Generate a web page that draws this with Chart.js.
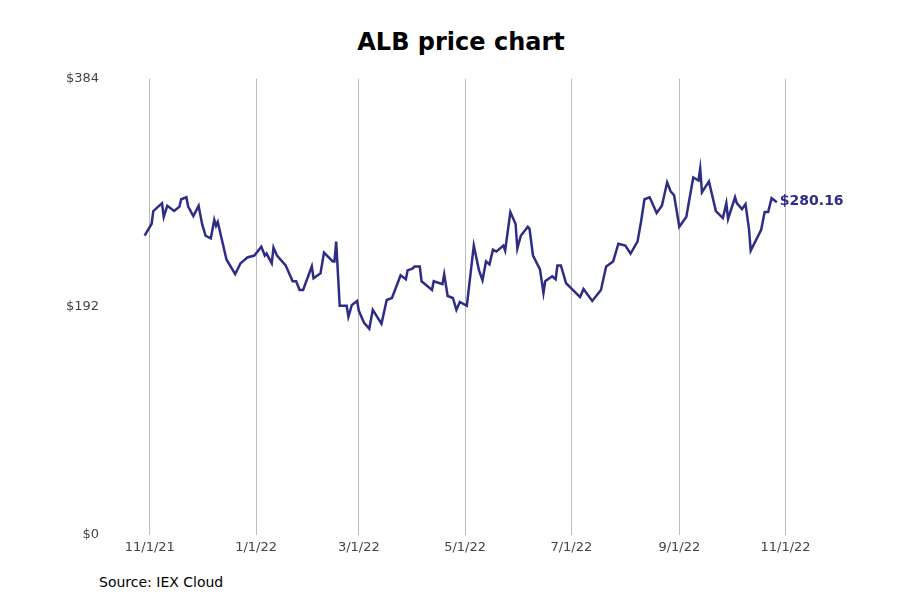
<!DOCTYPE html>
<html>
<head>
<meta charset="utf-8">
<script src="https://cdn.jsdelivr.net/npm/chart.js@4/dist/chart.umd.min.js"></script>
<style>
  body { margin: 0; background: #fff; font-family: "DejaVu Sans", sans-serif; }
  #wrap { position: relative; width: 900px; height: 600px; }
  #title { position: absolute; top: 28px; left: 0; width: 922px; text-align: center; font-size: 24px; font-weight: bold; color: #000; }
  #box { position: absolute; left: 0; top: 63px; width: 900px; height: 497px; }
  #source { position: absolute; left: 99px; top: 574px; font-size: 14px; color: #000; }
</style>
</head>
<body>
<div id="wrap">
  <div id="title">ALB price chart</div>
  <div id="box"><canvas id="priceChart"></canvas></div>
  <div id="source">Source: IEX Cloud</div>
</div>
<script>
// ALB closing prices
const dates = ['2021-10-29','2021-11-02','2021-11-03','2021-11-08','2021-11-09','2021-11-11','2021-11-15','2021-11-18','2021-11-19','2021-11-22',
  '2021-11-23','2021-11-26','2021-11-29','2021-12-01','2021-12-03','2021-12-06','2021-12-08','2021-12-09','2021-12-10','2021-12-15',
  '2021-12-20','2021-12-23','2021-12-27','2021-12-31','2022-01-04','2022-01-06','2022-01-07','2022-01-10','2022-01-11','2022-01-13',
  '2022-01-18','2022-01-22','2022-01-24','2022-01-26','2022-01-28','2022-02-02','2022-02-03','2022-02-07','2022-02-09','2022-02-14',
  '2022-02-15','2022-02-16','2022-02-18','2022-02-22','2022-02-23','2022-02-25','2022-02-28','2022-03-01','2022-03-04','2022-03-07',
  '2022-03-09','2022-03-14','2022-03-17','2022-03-20','2022-03-25','2022-03-28','2022-03-29','2022-04-01','2022-04-02','2022-04-05',
  '2022-04-06','2022-04-12','2022-04-13','2022-04-18','2022-04-19','2022-04-21','2022-04-24','2022-04-26','2022-04-28','2022-05-02',
  '2022-05-06','2022-05-09','2022-05-11','2022-05-13','2022-05-15','2022-05-17','2022-05-19','2022-05-23','2022-05-24','2022-05-27',
  '2022-05-30','2022-05-31','2022-06-02','2022-06-06','2022-06-07','2022-06-09','2022-06-13','2022-06-15','2022-06-16','2022-06-20',
  '2022-06-22','2022-06-23','2022-06-25','2022-06-28','2022-07-02','2022-07-06','2022-07-08','2022-07-13','2022-07-18','2022-07-21',
  '2022-07-25','2022-07-26','2022-07-28','2022-08-01','2022-08-04','2022-08-08','2022-08-10','2022-08-12','2022-08-15','2022-08-19',
  '2022-08-22','2022-08-25','2022-08-27','2022-08-29','2022-09-01','2022-09-05','2022-09-09','2022-09-12','2022-09-13','2022-09-14',
  '2022-09-18','2022-09-22','2022-09-26','2022-09-28','2022-09-29','2022-10-03','2022-10-04','2022-10-07','2022-10-09','2022-10-11',
  '2022-10-12','2022-10-18','2022-10-20','2022-10-22','2022-10-24','2022-10-27'];
const prices = [251.9,261.8,272.7,279.3,267.7,277.1,272.7,276.4,282.6,284.3,
  276.4,268.5,277.1,261.8,251.9,249.6,265.2,260.2,263.5,231.9,
  219.5,228.6,233.6,235.2,242.7,235.2,236.9,228.6,241.9,235.2,
  226.9,213.6,213.6,206.2,206.2,226.1,216.1,220.3,237.7,230.3,
  230.3,246.9,192.9,192.9,183.7,193.7,197.0,188.7,178.7,173.7,
  189.5,177.9,197.8,199.5,218.6,215.3,222.8,224.4,226.1,226.1,
  213.6,206.2,213.6,211.1,219.5,201.2,199.5,189.5,196.2,192.9,
  243.6,222.8,214.5,230.3,227.8,240.2,238.6,243.6,239.4,271.8,
  261.8,241.1,251.9,259.4,257.7,235.2,223.6,203.7,213.6,217.8,
  215.3,226.9,226.9,211.9,206.2,200.3,207.0,197.0,206.2,226.1,
  230.3,235.2,245.2,243.6,236.9,246.9,263.5,282.6,284.3,271.0,
  277.1,296.8,289.3,286.0,259.4,267.7,300.9,298.4,308.4,288.4,
  297.6,272.7,266.8,279.3,266.0,284.3,279.3,274.3,278.5,257.7,
  239.4,256.9,271.8,271.8,283.5,280.16];
const tickDates = ['2021-11-01','2022-01-01','2022-03-01','2022-05-01','2022-07-01','2022-09-01','2022-11-01'];
const yTicks = [0, 192, 384];
const lastLabel = '$280.16';

const ts = d => Date.parse(d + 'T00:00:00Z');
const points = dates.map((d, i) => ({ x: ts(d), y: prices[i] }));
const lineColor = '#2e2d86';

const endLabel = {
  id: 'endLabel',
  afterDatasetsDraw(chart) {
    const pts = chart.getDatasetMeta(0).data;
    const p = pts[pts.length - 1];
    const ctx = chart.ctx;
    ctx.save();
    ctx.font = 'bold 14px "DejaVu Sans"';
    ctx.fillStyle = lineColor;
    ctx.textBaseline = 'middle';
    ctx.fillText(lastLabel, p.x + 3, p.y - 1);
    ctx.restore();
  }
};

new Chart(document.getElementById('priceChart'), {
  type: 'line',
  data: {
    datasets: [{
      data: points,
      borderColor: lineColor,
      borderWidth: 2.5,
      pointRadius: 0,
      tension: 0,
      fill: false
    }]
  },
  options: {
    responsive: true,
    maintainAspectRatio: false,
    animation: false,
    layout: { padding: { top: 10, right: 50 } },
    plugins: { legend: { display: false }, tooltip: { enabled: false } },
    scales: {
      x: {
        type: 'linear',
        min: ts('2021-10-12'),
        max: ts('2022-12-08'),
        afterBuildTicks: s => { s.ticks = tickDates.map(d => ({ value: ts(d) })); },
        afterFit: s => { s.height = 25; },
        border: { display: false },
        grid: { color: '#bbbbbb', drawTicks: false },
        ticks: {
          color: '#444',
          padding: 5,
          font: { family: 'DejaVu Sans', size: 13 },
          callback: v => {
            const d = new Date(v);
            return (d.getUTCMonth() + 1) + '/' + d.getUTCDate() + '/' + String(d.getUTCFullYear()).slice(2);
          }
        }
      },
      y: {
        min: 0,
        max: 384,
        afterBuildTicks: s => { s.ticks = yTicks.map(v => ({ value: v })); },
        afterFit: s => { s.width = 115; },
        border: { display: false },
        grid: { display: false },
        ticks: {
          color: '#444',
          padding: 8,
          font: { family: 'DejaVu Sans', size: 13 },
          callback: v => '$' + v
        }
      }
    }
  },
  plugins: [endLabel]
});
</script>
</body>
</html>
